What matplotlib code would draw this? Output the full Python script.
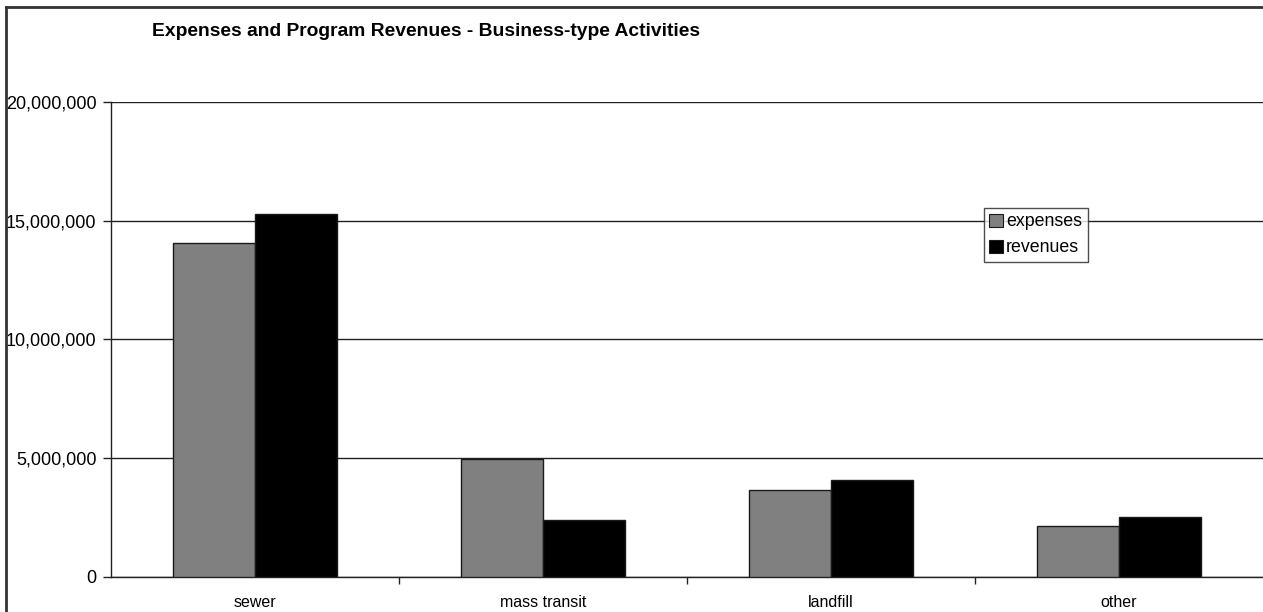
import matplotlib
matplotlib.use('Agg')
import matplotlib.pyplot as plt
import numpy as np
from matplotlib.lines import Line2D
from matplotlib.ticker import FuncFormatter

plt.rcParams['font.family'] = ['Liberation Sans', 'DejaVu Sans']

# Business-type activities, in dollars
categories = ['sewer', 'mass transit', 'landfill', 'other']
expenses = [14060000, 4940000, 3650000, 2140000]
revenues = [15270000, 2380000, 4080000, 2520000]
y_ticks = [0, 5000000, 10000000, 15000000, 20000000]

W, H = 1263, 612
fig = plt.figure(figsize=(W / 100, H / 100), dpi=100)
fig.patch.set_facecolor('white')

# Plot area in pixel terms
left, right, top, bottom = 111, 1263, 102, 576.5
ax = fig.add_axes([left / W, 1 - bottom / H, (right - left) / W, (bottom - top) / H])

x = np.arange(len(categories))
bw = 0.285
ax.bar(x - bw / 2, expenses, bw, color='#808080', edgecolor='#1a1a1a',
       linewidth=1, label='expenses', zorder=3)
ax.bar(x + bw / 2, revenues, bw, color='black', edgecolor='#1a1a1a',
       linewidth=1, label='revenues', zorder=3)

ax.set_xlim(-0.5, len(categories) - 0.5)
ax.set_ylim(0, 20000000)
ax.set_yticks(y_ticks)
ax.yaxis.set_major_formatter(FuncFormatter(lambda v, p: f'{int(v):,}'))
ax.yaxis.grid(True, color='#222222', linewidth=1, zorder=0)

# Category labels at centres, tick marks at category boundaries
ax.set_xticks(x)
ax.set_xticklabels(categories, fontsize=11.5)
ax.set_xticks(np.arange(0.5, len(categories) - 0.5), minor=True)
ax.tick_params(axis='x', which='major', length=0, pad=13)
ax.tick_params(axis='x', which='minor', length=5, width=1, color='#222222')
ax.tick_params(axis='y', length=6, width=1, color='#222222', pad=4.5,
               labelsize=13.0)

for side in ['top', 'right']:
    ax.spines[side].set_visible(False)
for side in ['left', 'bottom']:
    ax.spines[side].set_color('#222222')
    ax.spines[side].set_linewidth(1)

leg = ax.legend(loc='upper left', bbox_to_anchor=((984 - left) / (right - left), 1 - (208 - top) / (bottom - top)),
                fontsize=12.8, frameon=True, fancybox=False, handlelength=0.75,
                handleheight=0.75, handletextpad=0.2, borderpad=0.3,
                labelspacing=0.5, borderaxespad=0)
leg.get_frame().set_edgecolor('#222222')
leg.get_frame().set_linewidth(1)
for h in leg.legend_handles:
    h.set_linewidth(0.8)

fig.text(152 / W, 1 - 31.5 / H, 'Expenses and Program Revenues - Business-type Activities',
         ha='left', va='center', fontsize=13.9, fontweight='bold')

# Chart border along left and top edges
fig.add_artist(Line2D([5.5 / W, 5.5 / W], [0, 1 - 6.5 / H], transform=fig.transFigure,
                      color='#333333', linewidth=2))
fig.add_artist(Line2D([5.5 / W, 1], [1 - 6.5 / H, 1 - 6.5 / H], transform=fig.transFigure,
                      color='#333333', linewidth=2))

fig.savefig('out.png', dpi=100)
